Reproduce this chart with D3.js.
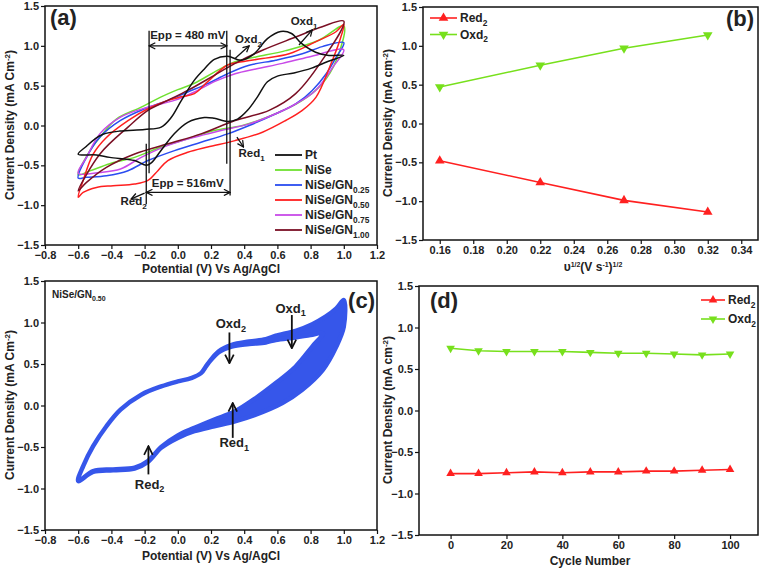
<!DOCTYPE html>
<html><head><meta charset="utf-8">
<script src="https://cdn.jsdelivr.net/npm/d3@7"></script>
<style>
body{margin:0;background:#fff}
text{font-family:Arial,"Liberation Sans",sans-serif;font-weight:bold;fill:#222}
</style>
</head><body>
<svg id="chart" width="761" height="569"></svg>
<script>
// ---------- DATA ----------
// Panel (a): CV loops [potential V, current density mA cm^-2]
const ptLoop = [[-0.6,-0.36],[-0.55,-0.26],[-0.5,-0.17],[-0.45,-0.11],[-0.35,-0.07],[-0.2,-0.05],[-0.1,-0.02],[-0.04,0.10],[0.02,0.31],[0.10,0.57],[0.16,0.71],[0.22,0.83],[0.30,0.87],[0.38,0.82],[0.46,0.90],[0.54,1.09],[0.62,1.18],[0.685,1.155],[0.745,1.03],[0.83,0.92],[0.91,0.88],[1.0,0.88],
  [0.9,0.80],[0.806,0.72],[0.70,0.66],[0.60,0.62],[0.54,0.55],[0.48,0.36],[0.42,0.19],[0.36,0.08],[0.30,0.05],[0.22,0.09],[0.16,0.10],[0.06,0.04],[-0.02,-0.10],[-0.10,-0.31],[-0.16,-0.47],[-0.19,-0.50],[-0.26,-0.44],[-0.41,-0.40],[-0.49,-0.37]];
const niseLoop = [[-0.6,-0.62],[-0.53,-0.32],[-0.47,-0.15],[-0.37,0.08],[-0.22,0.23],[-0.10,0.36],[0.0,0.45],[0.10,0.53],[0.22,0.67],[0.345,0.80],[0.47,0.86],[0.65,0.94],[0.85,1.07],[1.0,1.25],
  [0.955,0.82],[0.87,0.525],[0.75,0.315],[0.59,0.147],[0.39,0.0],[0.22,-0.063],[0.06,-0.168],[-0.10,-0.27],[-0.26,-0.40],[-0.41,-0.48],[-0.53,-0.57]];
const gn025Loop = [[-0.6,-0.66],[-0.55,-0.40],[-0.47,-0.147],[-0.345,0.063],[-0.2,0.21],[-0.06,0.315],[0.06,0.42],[0.18,0.525],[0.30,0.65],[0.43,0.756],[0.59,0.82],[0.75,0.90],[0.87,0.99],[1.0,1.04],
  [0.955,0.86],[0.894,0.65],[0.81,0.44],[0.71,0.27],[0.59,0.147],[0.43,0.0],[0.30,-0.105],[0.14,-0.21],[-0.02,-0.315],[-0.18,-0.44],[-0.30,-0.567],[-0.43,-0.63],[-0.55,-0.65]];
const gn050Loop = [[-0.6,-0.90],[-0.57,-0.69],[-0.51,-0.36],[-0.43,-0.15],[-0.30,0.06],[-0.18,0.21],[-0.06,0.315],[0.02,0.36],[0.10,0.40],[0.18,0.55],[0.30,0.76],[0.386,0.80],[0.51,0.84],[0.67,0.90],[0.83,1.05],[0.955,1.18],[1.0,1.27],
  [0.976,1.07],[0.915,0.735],[0.833,0.357],[0.75,0.19],[0.65,0.063],[0.51,-0.084],[0.345,-0.19],[0.18,-0.27],[0.06,-0.336],[-0.06,-0.44],[-0.12,-0.567],[-0.18,-0.69],[-0.26,-0.735],[-0.39,-0.756],[-0.49,-0.777],[-0.57,-0.84]];
const gn075Loop = [[-0.6,-0.60],[-0.55,-0.40],[-0.47,-0.105],[-0.345,0.105],[-0.18,0.23],[-0.02,0.315],[0.10,0.42],[0.22,0.55],[0.345,0.65],[0.47,0.71],[0.63,0.78],[0.79,0.86],[1.0,0.95],
  [0.935,0.735],[0.83,0.44],[0.71,0.27],[0.59,0.147],[0.43,0.02],[0.26,-0.063],[0.10,-0.147],[-0.06,-0.25],[-0.22,-0.40],[-0.345,-0.546],[-0.47,-0.59]];
const gn100Loop = [[-0.6,-0.82],[-0.47,-0.36],[-0.30,-0.02],[-0.18,0.19],[-0.06,0.315],[0.06,0.44],[0.22,0.63],[0.345,0.78],[0.51,0.945],[0.71,1.11],[0.87,1.24],[1.0,1.31],
  [0.87,0.82],[0.71,0.40],[0.55,0.19],[0.345,0.063],[0.14,-0.105],[-0.06,-0.23],[-0.26,-0.357],[-0.43,-0.525],[-0.55,-0.714]];
const cvNames = ["Pt","NiSe","NiSe/GN","NiSe/GN","NiSe/GN","NiSe/GN"];
const cvSubs = ["","","0.25","0.50","0.75","1.00"];

// Panel (b)
const sqrtRate = [0.16,0.22,0.27,0.32];
const red2Rate = [-0.48,-0.76,-0.99,-1.14];
const oxd2Rate = [0.47,0.75,0.97,1.14];

// Panel (c): first and last cycle of NiSe/GN0.50
const cycleOuter = [[-0.6,-0.91],[-0.57,-0.73],[-0.51,-0.49],[-0.43,-0.25],[-0.345,-0.05],[-0.22,0.13],[-0.10,0.23],[0.0,0.29],[0.08,0.33],[0.14,0.39],[0.18,0.50],[0.245,0.65],[0.325,0.73],[0.43,0.77],[0.53,0.80],[0.59,0.84],[0.71,0.90],[0.81,0.98],[0.89,1.07],[0.955,1.17],[1.0,1.27],
  [1.0,0.95],[0.955,0.71],[0.874,0.43],[0.75,0.19],[0.63,0.03],[0.47,-0.11],[0.345,-0.19],[0.22,-0.25],[0.10,-0.31],[0.0,-0.39],[-0.10,-0.51],[-0.18,-0.68],[-0.26,-0.76],[-0.39,-0.78],[-0.51,-0.80]];
const cycleInner = [[-0.6,-0.91],[-0.57,-0.73],[-0.51,-0.49],[-0.43,-0.25],[-0.345,-0.05],[-0.22,0.13],[-0.10,0.23],[0.0,0.29],[0.08,0.33],[0.14,0.39],[0.18,0.50],[0.245,0.64],[0.325,0.71],[0.43,0.74],[0.53,0.76],[0.59,0.79],[0.71,0.82],[0.80,0.85],[0.874,0.87],
  [0.81,0.71],[0.71,0.47],[0.59,0.27],[0.47,0.09],[0.345,-0.07],[0.22,-0.17],[0.10,-0.27],[0.0,-0.36],[-0.10,-0.50],[-0.18,-0.67],[-0.26,-0.75],[-0.39,-0.77],[-0.51,-0.79]];

// Panel (d)
const cycleNumber = [0,10,20,30,40,50,60,70,80,90,100];
const red2Cycle = [-0.76,-0.76,-0.75,-0.74,-0.75,-0.74,-0.74,-0.73,-0.73,-0.72,-0.71];
const oxd2Cycle = [0.75,0.72,0.71,0.71,0.71,0.70,0.69,0.69,0.68,0.67,0.68];

const yTicks = [-1.5,-1.0,-0.5,0.0,0.5,1.0,1.5];
const potTicks = [-0.8,-0.6,-0.4,-0.2,0.0,0.2,0.4,0.6,0.8,1.0,1.2];
const rateTicks = [0.16,0.18,0.20,0.22,0.24,0.26,0.28,0.30,0.32,0.34];
const cycleTicks = [0,20,40,60,80,100];

// ---------- STYLE ----------
const cvColors = ["#111111","#6fe030","#2a4cf0","#ff1f1f","#c84ae8","#7a0f24"];
const RED = "#ff2020", GREEN = "#77e01c", BLUE_C = "#3656ea";

const svg = d3.select("#chart");
const defs = svg.append("defs");
defs.append("marker").attr("id","arr").attr("viewBox","0 0 10 10").attr("refX",9).attr("refY",5)
  .attr("markerWidth",6).attr("markerHeight",6).attr("orient","auto-start-reverse")
  .append("path").attr("d","M1,1 L9,5 L1,9").attr("fill","none").attr("stroke","#111").attr("stroke-width",1.6);

function panel(box, xDom, yDom, xT, yT, xFmt) {
  const x = d3.scaleLinear().domain(xDom).range([box.l, box.r]);
  const y = d3.scaleLinear().domain(yDom).range([box.b, box.t]);
  const g = svg.append("g");
  g.append("g").attr("transform",`translate(0,${box.b})`)
    .call(d3.axisBottom(x).tickValues(xT).tickFormat(xFmt).tickSize(4).tickPadding(2).tickSizeOuter(0));
  g.append("g").attr("transform",`translate(${box.l},0)`)
    .call(d3.axisLeft(y).tickValues(yT).tickFormat(d3.format(".1f")).tickSize(4).tickPadding(2).tickSizeOuter(0));
  g.selectAll(".tick text").style("font-size","11px").style("font-weight","bold").attr("fill","#222");
  g.selectAll(".domain").remove();
  g.selectAll(".tick line").attr("stroke","#111").attr("stroke-width",1.2);
  svg.append("rect").attr("x",box.l).attr("y",box.t).attr("width",box.r-box.l).attr("height",box.b-box.t)
    .attr("fill","none").attr("stroke","#111").attr("stroke-width",1.5);
  return {x,y};
}

function subText(sel, x, y, base, sub, size, anchor) {
  const t = sel.append("text").attr("x",x).attr("y",y).style("font-size",size+"px").attr("text-anchor",anchor||"start");
  t.append("tspan").text(base);
  if (sub) t.append("tspan").attr("dy",size*0.3).style("font-size",(size*0.7)+"px").text(sub);
  return t;
}
function yTitle(x, cy, txt, sup) {
  const t = svg.append("text").attr("transform",`translate(${x},${cy}) rotate(-90)`).attr("text-anchor","middle").style("font-size","12px");
  t.append("tspan").text(txt);
  t.append("tspan").attr("dy",-4).style("font-size","8px").text(sup);
  t.append("tspan").attr("dy",4).text(")");
}

// ---------- PANEL (a) ----------
{
  const {x,y} = panel({l:45,r:377,t:6,b:245},[-0.8,1.2],[-1.5,1.5],potTicks,yTicks,d3.format(".1f"));
  const line = d3.line().x(d=>x(d[0])).y(d=>y(d[1])).curve(d3.curveCatmullRomClosed.alpha(0.5));
  const loops = [ptLoop,niseLoop,gn025Loop,gn050Loop,gn075Loop,gn100Loop];
  const order = [1,2,4,3,5,0];
  order.forEach(i => svg.append("path").attr("d",line(loops[i])).attr("fill","none").attr("stroke",cvColors[i]).attr("stroke-width",1.5));
  const L = (x1,y1,x2,y2,m1,m2)=>{const p=svg.append("line").attr("x1",x(x1)).attr("y1",y(y1)).attr("x2",x(x2)).attr("y2",y(y2)).attr("stroke","#111").attr("stroke-width",1.3);
    if(m1)p.attr("marker-start","url(#arr)"); if(m2)p.attr("marker-end","url(#arr)"); return p;};
  L(-0.173,1.19,-0.173,-0.60); L(-0.19,-0.23,-0.19,-0.99);
  L(0.295,1.19,0.295,-0.48); L(0.315,0.95,0.315,-0.88);
  L(-0.173,1.0,0.295,1.0,true,true); L(-0.19,-0.84,0.315,-0.84,true,true);
  svg.append("text").attr("x",x(0.06)).attr("y",y(1.09)).attr("text-anchor","middle").style("font-size","11.5px").text("Epp = 480 mV");
  svg.append("text").attr("x",x(0.06)).attr("y",y(-0.77)).attr("text-anchor","middle").style("font-size","11.5px").text("Epp = 516mV");
  L(0.345,0.84,0.43,1.0,false,true); L(0.73,1.01,0.81,1.20,false,true);
  L(0.356,-0.147,0.396,-0.27,false,true); L(-0.2,-0.85,-0.28,-0.92,false,true);
  subText(svg,x(0.345),y(1.03),"Oxd","2",11.5);
  subText(svg,x(0.68),y(1.26),"Oxd","1",11.5);
  subText(svg,x(0.366),y(-0.40),"Red","1",11.5);
  subText(svg,x(-0.345),y(-1.0),"Red","2",11.5);
  svg.append("text").attr("x",50).attr("y",25).style("font-size","22px").text("(a)");
  const lg = svg.append("g");
  cvNames.forEach((n,i)=>{
    const yy = 155 + i*15;
    lg.append("line").attr("x1",275).attr("x2",302).attr("y1",yy).attr("y2",yy).attr("stroke",cvColors[i]).attr("stroke-width",1.8);
    subText(lg,305,yy+4,n,cvSubs[i],12);
  });
  svg.append("text").attr("x",(45+377)/2).attr("y",273).attr("text-anchor","middle").style("font-size","12px").text("Potential (V) Vs Ag/AgCl");
  yTitle(14,125,"Current Density (mA Cm","-2");
}

// ---------- PANEL (b) ----------
{
  const {x,y} = panel({l:423,r:758,t:7,b:240},[0.15,0.35],[-1.5,1.5],rateTicks,yTicks,d3.format(".2f"));
  const line = d3.line().x(d=>x(d[0])).y(d=>y(d[1]));
  const sRed = sqrtRate.map((v,i)=>[v,red2Rate[i]]);
  const sOx = sqrtRate.map((v,i)=>[v,oxd2Rate[i]]);
  svg.append("path").attr("d",line(sRed)).attr("fill","none").attr("stroke",RED).attr("stroke-width",1.6);
  svg.append("path").attr("d",line(sOx)).attr("fill","none").attr("stroke",GREEN).attr("stroke-width",1.6);
  const up = d3.symbol().type(d3.symbolTriangle).size(40);
  svg.selectAll(null).data(sRed).enter().append("path").attr("d",up).attr("transform",d=>`translate(${x(d[0])},${y(d[1])})`).attr("fill",RED);
  svg.selectAll(null).data(sOx).enter().append("path").attr("d",up).attr("transform",d=>`translate(${x(d[0])},${y(d[1])}) rotate(180)`).attr("fill",GREEN);
  [[RED,"Red",0],[GREEN,"Oxd",180]].forEach((e,i)=>{
    const yy = 18 + i*16.5;
    svg.append("line").attr("x1",430).attr("x2",457).attr("y1",yy).attr("y2",yy).attr("stroke",e[0]).attr("stroke-width",1.6);
    svg.append("path").attr("d",up).attr("transform",`translate(443.5,${yy}) rotate(${e[2]})`).attr("fill",e[0]);
    subText(svg,460,yy+4,e[1],"2",12);
  });
  svg.append("text").attr("x",754).attr("y",26).attr("text-anchor","end").style("font-size","22px").text("(b)");
  const t = svg.append("text").attr("x",593).attr("y",271).attr("text-anchor","middle").style("font-size","12px");
  t.append("tspan").text("υ"); t.append("tspan").attr("dy",-4).style("font-size","7px").text("1/2");
  t.append("tspan").attr("dy",4).text("(V s"); t.append("tspan").attr("dy",-4).style("font-size","7px").text("-1");
  t.append("tspan").attr("dy",4).text(")"); t.append("tspan").attr("dy",-4).style("font-size","7px").text("1/2");
  yTitle(392,123,"Current Density (mA cm","-2");
}

// ---------- PANEL (c) ----------
{
  const {x,y} = panel({l:45,r:377,t:281,b:530},[-0.8,1.2],[-1.5,1.5],potTicks,yTicks,d3.format(".1f"));
  const line = d3.line().x(d=>x(d[0])).y(d=>y(d[1])).curve(d3.curveCatmullRomClosed.alpha(0.5));
  svg.append("path").attr("d",line(cycleOuter)+line(cycleInner)).attr("fill",BLUE_C).attr("fill-rule","evenodd")
    .attr("stroke",BLUE_C).attr("stroke-width",4.5).attr("stroke-linejoin","round");
  const A = (x1,y1,x2,y2)=>svg.append("line").attr("x1",x(x1)).attr("y1",y(y1)).attr("x2",x(x2)).attr("y2",y(y2)).attr("stroke","#111").attr("stroke-width",1.8).attr("marker-end","url(#arr)");
  A(0.687,1.09,0.687,0.69); A(0.311,0.88,0.311,0.51); A(0.331,-0.39,0.331,0.03); A(-0.177,-0.83,-0.177,-0.49);
  subText(svg,x(0.68),y(1.12),"Oxd","1",13,"middle");
  subText(svg,x(0.32),y(0.93),"Oxd","2",13,"middle");
  subText(svg,x(0.34),y(-0.50),"Red","1",13,"middle");
  subText(svg,x(-0.17),y(-1.0),"Red","2",13,"middle");
  subText(svg,52,298,"NiSe/GN","0.50",10);
  svg.append("text").attr("x",375).attr("y",308).attr("text-anchor","end").style("font-size","22px").text("(c)");
  svg.append("text").attr("x",(45+377)/2).attr("y",560).attr("text-anchor","middle").style("font-size","12px").text("Potential (V) Vs Ag/AgCl");
  yTitle(14,405,"Current Density (mA Cm","-2");
}

// ---------- PANEL (d) ----------
{
  const {x,y} = panel({l:419,r:758,t:286,b:535},[-11.3,110],[-1.5,1.5],cycleTicks,yTicks,d3.format("d"));
  const line = d3.line().x(d=>x(d[0])).y(d=>y(d[1]));
  const sRed = cycleNumber.map((v,i)=>[v,red2Cycle[i]]);
  const sOx = cycleNumber.map((v,i)=>[v,oxd2Cycle[i]]);
  svg.append("path").attr("d",line(sRed)).attr("fill","none").attr("stroke",RED).attr("stroke-width",1.6);
  svg.append("path").attr("d",line(sOx)).attr("fill","none").attr("stroke",GREEN).attr("stroke-width",1.6);
  const up = d3.symbol().type(d3.symbolTriangle).size(32);
  svg.selectAll(null).data(sRed).enter().append("path").attr("d",up).attr("transform",d=>`translate(${x(d[0])},${y(d[1])})`).attr("fill",RED);
  svg.selectAll(null).data(sOx).enter().append("path").attr("d",up).attr("transform",d=>`translate(${x(d[0])},${y(d[1])}) rotate(180)`).attr("fill",GREEN);
  [[RED,"Red",0],[GREEN,"Oxd",180]].forEach((e,i)=>{
    const yy = 300 + i*19;
    svg.append("line").attr("x1",701).attr("x2",725).attr("y1",yy).attr("y2",yy).attr("stroke",e[0]).attr("stroke-width",1.6);
    svg.append("path").attr("d",up).attr("transform",`translate(713,${yy}) rotate(${e[2]})`).attr("fill",e[0]);
    subText(svg,728,yy+4,e[1],"2",12);
  });
  svg.append("text").attr("x",430).attr("y",308).style("font-size","22px").text("(d)");
  svg.append("text").attr("x",590).attr("y",565).attr("text-anchor","middle").style("font-size","12px").text("Cycle Number");
  yTitle(392,410,"Current Density (mA cm","-2");
}
</script>
</body></html>
